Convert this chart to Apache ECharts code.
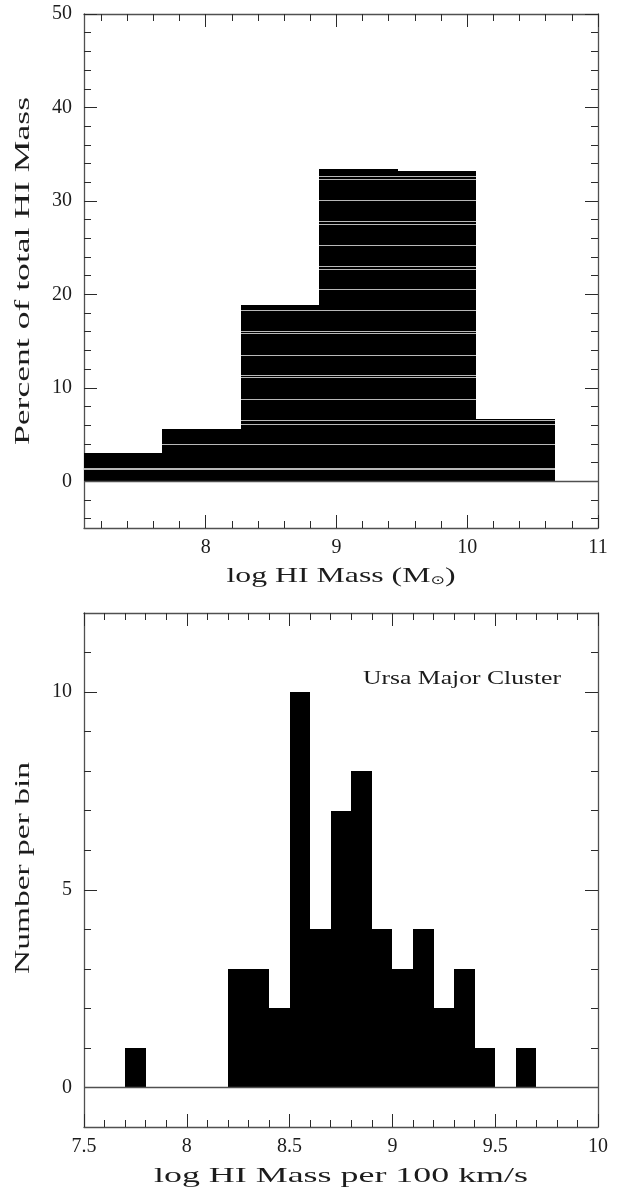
<!DOCTYPE html>
<html>
<head>
<meta charset="utf-8">
<script src="https://cdn.jsdelivr.net/npm/echarts@6/dist/echarts.min.js"></script>
<style>
  html, body { margin: 0; padding: 0; background: #ffffff; }
  #chart { width: 620px; height: 1192px; }
</style>
</head>
<body>
<div id="chart"></div>
<script>
// ---- Upper panel: share of the total HI mass per 0.6 dex mass bin ----
const massBinEdges = [7.07, 7.67, 8.27, 8.87, 9.47, 10.07, 10.67];
const massPercent = [3.0, 5.64, 18.85, 33.43, 33.2, 6.71];
// pale streaks running across the filled histogram
const streakLevels = [1.28, 1.47, 3.96, 6.17, 6.52, 8.77, 11.16, 11.34, 13.48, 15.86,
  16.07, 18.29, 20.53, 22.75, 23.03, 25.3, 27.56, 27.8, 30.05, 32.37, 32.65];
const massTickLabels = [8, 9, 10, 11];
const percentTickLabels = [0, 10, 20, 30, 40, 50];

// ---- Lower panel: galaxies per 0.1 dex bin of HI mass per 100 km/s ----
const perVelBinWidth = 0.1;
const perVelBinLeft = [7.7, 8.2, 8.3, 8.4, 8.5, 8.6, 8.7, 8.8, 8.9, 9.0, 9.1, 9.2, 9.3, 9.4, 9.6];
const perVelCounts = [1, 3, 3, 2, 10, 4, 7, 8, 4, 3, 4, 2, 3, 1, 1];
const perVelTickLabels = [7.5, 8, 8.5, 9, 9.5, 10];
const countTickLabels = [0, 5, 10];

function steps(from, to, step) {
  const out = [];
  for (let v = from; v <= to + 1e-9; v += step) out.push(+v.toFixed(4));
  return out;
}

const FRAME = '#505050';
const INK = '#1c1c1c';
const SERIF = '"Liberation Serif", "DejaVu Serif", serif';

function frameAxes(dim, gridIndex, min, max, major, minor) {
  const sides = dim === 'x' ? ['bottom', 'top'] : ['left', 'right'];
  const axes = [];
  sides.forEach((pos, si) => {
    [[major, 13, true], [minor, 7, false]].forEach(([vals, len, isMajor]) => {
      axes.push({
        type: 'value', gridIndex, position: pos, min, max,
        axisLine: { show: isMajor, onZero: false, lineStyle: { color: FRAME, width: 1.3 } },
        axisTick: { show: true, inside: true, length: len, customValues: vals,
          lineStyle: { color: '#2a2a2a', width: 1 } },
        axisLabel: { show: isMajor && si === 0, customValues: vals, color: INK,
          fontFamily: SERIF, fontSize: 20, margin: dim === 'x' ? 10 : 12 },
        splitLine: { show: false }
      });
    });
  });
  return axes;
}

const xAxes = [
  ...frameAxes('x', 0, 7.07, 11, massTickLabels, steps(7.2, 10.8, 0.2)),
  ...frameAxes('x', 1, 7.5, 10, perVelTickLabels, steps(7.6, 9.9, 0.1))
];
const yAxes = [
  ...frameAxes('y', 0, -5, 50, percentTickLabels, steps(-4, 48, 2)),
  ...frameAxes('y', 1, -1, 12, countTickLabels, steps(1, 11, 1))
];

// filled bin, snapped to whole pixels so neighbouring bins join without seams
function histRect(params, api) {
  const p0 = api.coord([api.value(0), api.value(2)]);
  const p1 = api.coord([api.value(1), 0]);
  const x0 = Math.round(p0[0]), x1 = Math.round(p1[0]);
  const y0 = Math.round(p0[1]), y1 = Math.round(p1[1]);
  return {
    type: 'rect',
    shape: { x: x0, y: y0, width: x1 - x0, height: y1 - y0 },
    style: { fill: '#000' }
  };
}

function streakLine(params, api) {
  const level = api.value(0);
  let left = null, right = null;
  massPercent.forEach((h, i) => {
    if (h > level) {
      if (left === null) left = massBinEdges[i];
      right = massBinEdges[i + 1];
    }
  });
  if (left === null) return null;
  const a = api.coord([left, level]);
  const b = api.coord([right, level]);
  const y = Math.round(a[1]) + 0.5;
  return {
    type: 'line',
    shape: { x1: Math.round(a[0]), y1: y, x2: Math.round(b[0]), y2: y },
    style: { stroke: '#b8b8b8', lineWidth: 1 }
  };
}

const baseline = {
  silent: true, symbol: 'none', label: { show: false },
  lineStyle: { color: FRAME, width: 1.3, type: 'solid' },
  data: [{ yAxis: 0 }]
};

const massBins = massPercent.map((h, i) => [massBinEdges[i], massBinEdges[i + 1], h]);
const perVelBins = perVelCounts.map((c, i) =>
  [perVelBinLeft[i], +(perVelBinLeft[i] + perVelBinWidth).toFixed(2), c]);

// stretched serif lettering for the axis titles and the panel note
const measureCtx = document.createElement('canvas').getContext('2d');
function textWidth(str, size) {
  measureCtx.font = size + 'px "Liberation Serif"';
  return measureCtx.measureText(str).width;
}
function title(str, cx, cy, width, size, vertical, extra) {
  const natural = extra ? extra.natural : textWidth(str, size);
  const style = Object.assign({
    text: str, fontFamily: SERIF, fontSize: size, fill: INK,
    align: 'center', verticalAlign: 'middle'
  }, extra ? extra.style : {});
  return {
    type: 'text', x: cx, y: cy, rotation: vertical ? Math.PI / 2 : 0,
    scaleX: width / natural, scaleY: 1, silent: true, style
  };
}

const sunTitleSize = 22;
const sunNatural = textWidth('log HI Mass (M)', sunTitleSize) + textWidth('⊙', 12);

const option = {
  animation: false,
  backgroundColor: '#ffffff',
  grid: [
    { left: 84, top: 14, width: 514, height: 514 },
    { left: 84, top: 613, width: 514, height: 514 }
  ],
  xAxis: xAxes,
  yAxis: yAxes,
  series: [
    {
      type: 'custom', xAxisIndex: 0, yAxisIndex: 0,
      renderItem: histRect, encode: { x: [0, 1], y: 2 },
      data: massBins, markLine: baseline
    },
    {
      type: 'custom', xAxisIndex: 0, yAxisIndex: 0,
      renderItem: streakLine, encode: { y: 0 },
      data: streakLevels.map(v => [v])
    },
    {
      type: 'custom', xAxisIndex: 4, yAxisIndex: 4,
      renderItem: histRect, encode: { x: [0, 1], y: 2 },
      data: perVelBins, markLine: baseline
    }
  ],
  graphic: [
    title('Percent of total HI Mass', 23, 271, 348, 21, true),
    title('log HI Mass (M{s|⊙})', 341, 576, 229, sunTitleSize, false, {
      natural: sunNatural,
      style: {
        lineHeight: 22,
        rich: {
          s: { fontSize: 12, lineHeight: 4, verticalAlign: 'bottom',
               fontFamily: '"DejaVu Sans", sans-serif', fill: INK }
        }
      }
    }),
    title('Number per bin', 23, 868, 212, 21, true),
    title('log HI Mass per 100 km/s', 341, 1176, 374, 22, false),
    title('Ursa Major Cluster', 462, 679, 198, 19, false)
  ]
};

const chart = echarts.init(document.getElementById('chart'), null, { renderer: 'canvas' });
chart.setOption(option);
</script>
</body>
</html>
